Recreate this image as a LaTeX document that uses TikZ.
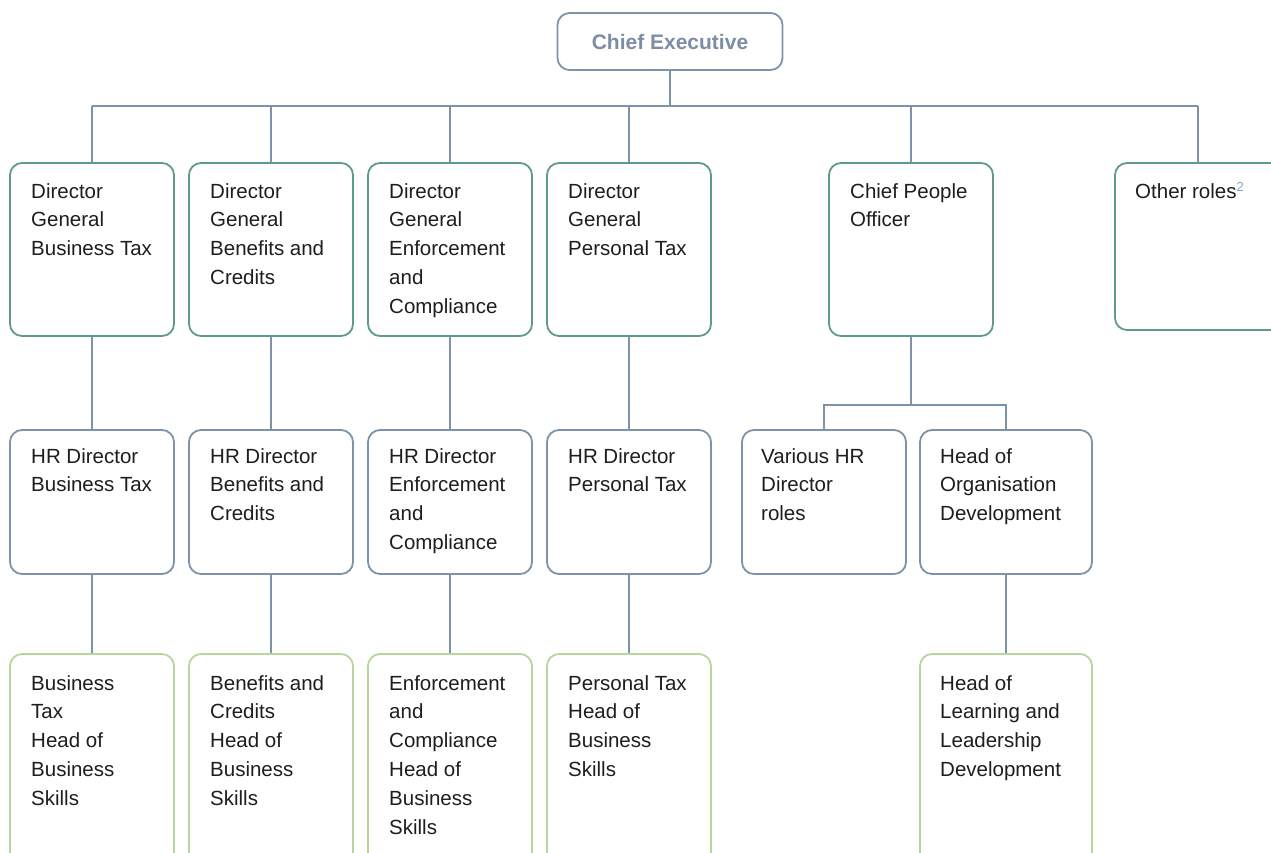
\documentclass[tikz,border=0pt]{standalone}
\usepackage{fontspec}
\setmainfont{Liberation Sans}
\definecolor{lineblue}{HTML}{7D93AA}
\definecolor{dgreen}{HTML}{5E9B8C}
\definecolor{lgreen}{HTML}{B8D59C}
\definecolor{cetext}{HTML}{7B8EA5}
\definecolor{txtcol}{HTML}{1E1E1E}
\definecolor{supcol}{HTML}{7FA3C3}
\begin{document}
\begin{tikzpicture}[x=1pt,y=-1pt,
  box/.style={draw, rounded corners=12pt, line width=1.8pt, fill=white, inner sep=0pt},
  gbox/.style={box, draw=dgreen},
  bbox/.style={box, draw=lineblue},
  lbox/.style={box, draw=lgreen},
  txt/.style={anchor=north west, inner sep=0pt, align=left, text=txtcol,
    font=\fontsize{20.5}{28.8}\selectfont},
  conn/.style={draw=lineblue, line width=1.8pt}]
\useasboundingbox (0,0) rectangle (1271,852);
\clip (0,0) rectangle (1271,852);
% top
\node[bbox, minimum width=225pt, minimum height=57pt, text=cetext,
  font=\fontsize{21}{24}\selectfont\bfseries] (ce) at (670,41.5) {Chief Executive};
% row 1
\node[gbox, minimum width=164pt, minimum height=173pt] (d1) at (92,249.5) {};
\node[gbox, minimum width=164pt, minimum height=173pt] (d2) at (271,249.5) {};
\node[gbox, minimum width=164pt, minimum height=173pt] (d3) at (450,249.5) {};
\node[gbox, minimum width=164pt, minimum height=173pt] (d4) at (629,249.5) {};
\node[gbox, minimum width=164pt, minimum height=173pt] (cpo) at (911,249.5) {};
\node[gbox, minimum width=170pt, minimum height=167pt] (oth) at (1200,246.5) {};
% row 2
\node[bbox, minimum width=164pt, minimum height=144pt] (h1) at (92,502) {};
\node[bbox, minimum width=164pt, minimum height=144pt] (h2) at (271,502) {};
\node[bbox, minimum width=164pt, minimum height=144pt] (h3) at (450,502) {};
\node[bbox, minimum width=164pt, minimum height=144pt] (h4) at (629,502) {};
\node[bbox, minimum width=164pt, minimum height=144pt] (hv) at (824,502) {};
\node[bbox, minimum width=172pt, minimum height=144pt] (ho) at (1006,502) {};
% row 3
\node[lbox, minimum width=164pt, minimum height=246pt] (b1) at (92,777) {};
\node[lbox, minimum width=164pt, minimum height=246pt] (b2) at (271,777) {};
\node[lbox, minimum width=164pt, minimum height=246pt] (b3) at (450,777) {};
\node[lbox, minimum width=164pt, minimum height=246pt] (b4) at (629,777) {};
\node[lbox, minimum width=172pt, minimum height=246pt] (bl) at (1006,777) {};
% texts
\node[txt] (t1) at (31,183) {Director\\General\\Business Tax};
\node[txt] (t2) at (210,183) {Director\\General\\Benefits and\\Credits};
\node[txt] (t3) at (389,183) {Director\\General\\Enforcement\\and\\Compliance};
\node[txt] (t4) at (568,183) {Director\\General\\Personal Tax};
\node[txt] (t5) at (850,183) {Chief People\\Officer};
\node[txt] (t6) at (1135,182) {Other roles\textsuperscript{\color{supcol}\fontsize{13}{14}\selectfont 2}};
\node[txt] (t7) at (31,448) {HR Director\\Business Tax};
\node[txt] (t8) at (210,448) {HR Director\\Benefits and\\Credits};
\node[txt] (t9) at (389,448) {HR Director\\Enforcement\\and\\Compliance};
\node[txt] (t10) at (568,448) {HR Director\\Personal Tax};
\node[txt] (t11) at (761,448) {Various HR\\Director\\roles};
\node[txt] (t12) at (940,448) {Head of\\Organisation\\Development};
\node[txt] (t13) at (31,675) {Business\\Tax\\Head of\\Business\\Skills};
\node[txt] (t14) at (210,675) {Benefits and\\Credits\\Head of\\Business\\Skills};
\node[txt] (t15) at (389,675) {Enforcement\\and\\Compliance\\Head of\\Business\\Skills};
\node[txt] (t16) at (568,675) {Personal Tax\\Head of\\Business\\Skills};
\node[txt] (t17) at (940,675) {Head of\\Learning and\\Leadership\\Development};
% connectors
\coordinate (bus) at (0,106);
\coordinate (othtop) at (1198,163);
\coordinate (cbus) at (0,405);
\draw[conn] (ce.south) -- (ce.south |- bus);
\draw[conn] (d1.north |- bus) -- (othtop |- bus);
\foreach \n in {d1,d2,d3,d4,cpo}{\draw[conn] (\n.north |- bus) -- (\n.north);}
\draw[conn] (othtop |- bus) -- (othtop);
\draw[conn] (d1) -- (h1); \draw[conn] (d2) -- (h2);
\draw[conn] (d3) -- (h3); \draw[conn] (d4) -- (h4);
\draw[conn] (h1) -- (b1); \draw[conn] (h2) -- (b2);
\draw[conn] (h3) -- (b3); \draw[conn] (h4) -- (b4);
\draw[conn] (cpo.south) -- (cpo.south |- cbus);
\draw[conn] (hv.north) -- (hv.north |- cbus) -- (ho.north |- cbus) -- (ho.north);
\draw[conn] (ho) -- (bl);
\end{tikzpicture}
\end{document}
